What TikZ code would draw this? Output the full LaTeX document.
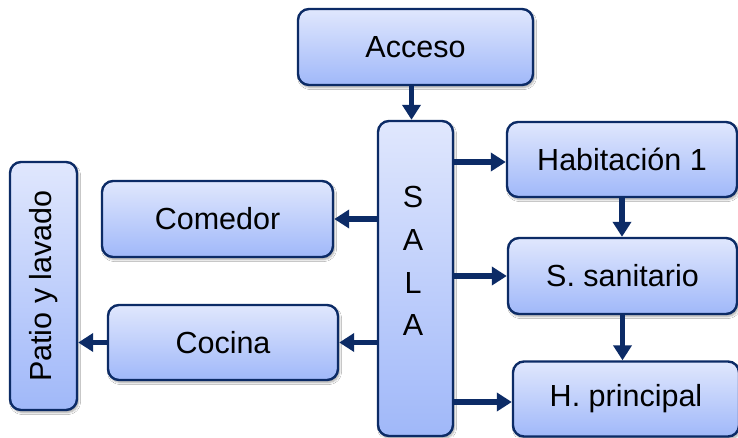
\documentclass[tikz,border=0pt]{standalone}
\usepackage{fontspec}
\setmainfont{Liberation Sans}
\usetikzlibrary{arrows.meta,shadows.blur}
\definecolor{boxtop}{RGB}{224,231,253}
\definecolor{boxbot}{RGB}{160,184,249}
\definecolor{navy}{RGB}{12,43,102}
\tikzset{
  box/.style={draw=navy, line width=2.4pt, rounded corners=11pt,
    top color=boxtop, bottom color=boxbot,
    blur shadow={shadow xshift=1.5pt, shadow yshift=-2.5pt, shadow blur steps=6, shadow opacity=35},
    font=\fontsize{30.5}{36}\selectfont, inner sep=0pt, align=center},
  arr/.style={draw=navy, line width=5.5pt, -{Triangle[length=15pt,width=18pt]}},
  lbl/.style={font=\fontsize{30.5}{36}\selectfont, inner sep=0pt}
}
\begin{document}
\begin{tikzpicture}[x=1pt,y=-1pt]
\useasboundingbox[fill=white] (0,0) rectangle (738,437);
\node[box, minimum width=235pt, minimum height=76pt] (acceso) at (415.5,47) {Acceso};
\node[box, minimum width=75pt, minimum height=315pt] (sala) at (415.5,278.5) {};
\node[lbl, align=center, font=\fontsize{30.5}{42.7}\selectfont] (salatxt) at (413,261) {S\\A\\L\\A};
\node[box, minimum width=230pt, minimum height=75pt] (hab) at (622,159.5) {Habitación 1};
\node[box, minimum width=229pt, minimum height=76pt] (ss) at (622.5,276) {S. sanitario};
\node[box, minimum width=226pt, minimum height=75pt] (hp) at (626,399) {H. principal};
\node[box, minimum width=231pt, minimum height=76pt] (comedor) at (217.5,219) {Comedor};
\node[box, minimum width=230pt, minimum height=75pt] (cocina) at (223,342.5) {Cocina};
\node[box, minimum width=67pt, minimum height=248pt] (patio) at (43.5,286) {};
\node[lbl, rotate=90] (patiotxt) at (patio.center) {Patio y lavado};
\draw[arr] ([xshift=-4pt]acceso.south) -- ([xshift=-4pt]sala.north);
\draw[arr] ([yshift=-2.5pt]sala.east |- hab.west) -- ([yshift=-2.5pt]hab.west);
\draw[arr] (sala.east |- ss.west) -- (ss.west);
\draw[arr] ([yshift=-3pt]sala.east |- hp.west) -- ([yshift=-3pt]hp.west);
\draw[arr] (sala.west |- comedor.east) -- (comedor.east);
\draw[arr] (sala.west |- cocina.east) -- (cocina.east);
\draw[arr] (cocina.west) -- (cocina.west -| patio.east);
\draw[arr] (hab.south) -- (hab.south |- ss.north);
\draw[arr] (ss.south) -- (ss.south |- hp.north);
\end{tikzpicture}
\end{document}
